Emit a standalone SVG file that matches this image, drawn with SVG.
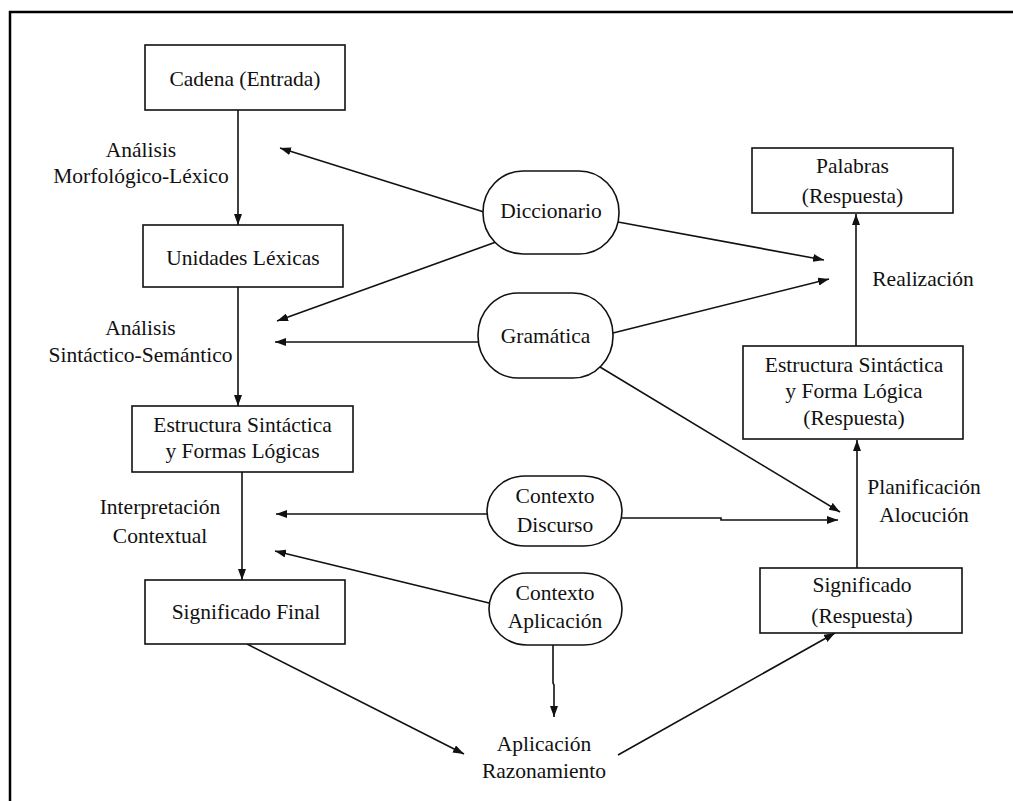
<svg xmlns="http://www.w3.org/2000/svg" width="1013" height="801" viewBox="0 0 1013 801">
  <defs>
    <marker id="arrow" viewBox="0 0 10 10" refX="10" refY="5" markerWidth="11" markerHeight="8" markerUnits="userSpaceOnUse" orient="auto" preserveAspectRatio="none">
      <path d="M0,0 L10,5 L0,10 Z" fill="#111"/>
    </marker>
  </defs>

  <rect width="1013" height="801" fill="#fff"/>

  <!-- outer frame: top and left edges only -->
  <g id="frame" stroke="#000" stroke-width="2.5" fill="none">
    <line x1="9" y1="12" x2="1013" y2="12"/>
    <line x1="10" y1="11" x2="10" y2="801"/>
  </g>

  <g id="connectors" fill="none" stroke="#111" stroke-width="1.6" marker-end="url(#arrow)">
    <!-- left pipeline -->
    <line x1="238" y1="110" x2="238" y2="225"/>
    <line x1="238" y1="287" x2="238" y2="406"/>
    <line x1="242" y1="472" x2="242" y2="580"/>
    <!-- right pipeline -->
    <line x1="857" y1="568" x2="857" y2="440"/>
    <line x1="856" y1="346" x2="856" y2="214"/>
    <!-- Diccionario -->
    <line x1="484" y1="212" x2="280" y2="148"/>
    <line x1="496" y1="242" x2="277" y2="321"/>
    <line x1="618" y1="222" x2="824" y2="260"/>
    <!-- Gramática -->
    <line x1="478" y1="342" x2="275" y2="342"/>
    <line x1="613" y1="333" x2="829" y2="279"/>
    <line x1="600" y1="367" x2="840" y2="512"/>
    <!-- Contexto Discurso -->
    <line x1="487" y1="514" x2="276" y2="514"/>
    <polyline points="622,518 721,518 721,520 838,520"/>
    <!-- Contexto Aplicación -->
    <line x1="489" y1="603" x2="275" y2="551"/>
    <polyline points="553,645 553,683 554,685 554,717"/>
    <!-- reasoning step -->
    <line x1="247" y1="644" x2="464" y2="754"/>
    <line x1="618" y1="755" x2="835" y2="633"/>
  </g>

  <!-- all nodes share one stroke and type setting -->
  <g id="nodes" stroke-width="1.6" font-family="Liberation Serif" font-size="21.5" text-anchor="middle">
    <g id="cadena">
      <rect x="145" y="45" width="200" height="65" fill="#fff" stroke="#111"/>
      <text x="245" y="86" fill="#111">Cadena (Entrada)</text>
    </g>
    <g id="unidades">
      <rect x="143" y="225" width="200" height="62" fill="#fff" stroke="#111"/>
      <text x="243" y="265" fill="#111">Unidades Léxicas</text>
    </g>
    <g id="estructura">
      <rect x="132" y="406" width="221" height="66" fill="#fff" stroke="#111"/>
      <text x="242.5" y="432" fill="#111">Estructura Sintáctica</text>
      <text x="242.5" y="458" fill="#111">y Formas Lógicas</text>
    </g>
    <g id="significado-final">
      <rect x="145" y="580" width="200" height="64" fill="#fff" stroke="#111"/>
      <text x="246" y="619" fill="#111">Significado Final</text>
    </g>

    <g id="palabras">
      <rect x="752" y="148" width="201" height="65" fill="#fff" stroke="#111"/>
      <text x="852.5" y="173" fill="#111">Palabras</text>
      <text x="852.5" y="203" fill="#111">(Respuesta)</text>
    </g>
    <g id="estructura-respuesta">
      <rect x="743" y="346" width="220" height="93" fill="#fff" stroke="#111"/>
      <text x="854" y="372" fill="#111">Estructura Sintáctica</text>
      <text x="854" y="398" fill="#111">y Forma Lógica</text>
      <text x="854" y="425" fill="#111">(Respuesta)</text>
    </g>
    <g id="significado-respuesta">
      <rect x="760" y="568" width="202" height="65" fill="#fff" stroke="#111"/>
      <text x="862" y="592" fill="#111">Significado</text>
      <text x="862" y="623" fill="#111">(Respuesta)</text>
    </g>

    <g id="diccionario">
      <rect x="483" y="171" width="136" height="83" rx="40" ry="41" fill="#fff" stroke="#111"/>
      <text x="551" y="218" fill="#111">Diccionario</text>
    </g>
    <g id="gramatica">
      <rect x="478" y="293" width="135" height="85" rx="40" ry="42" fill="#fff" stroke="#111"/>
      <text x="545.5" y="343" fill="#111">Gramática</text>
    </g>
    <g id="contexto-discurso">
      <rect x="487" y="476" width="135" height="70" rx="38" ry="35" fill="#fff" stroke="#111"/>
      <text x="555" y="503" fill="#111">Contexto</text>
      <text x="555" y="532" fill="#111">Discurso</text>
    </g>
    <g id="contexto-aplicacion">
      <rect x="489" y="573" width="133" height="72" rx="38" ry="36" fill="#fff" stroke="#111"/>
      <text x="555" y="600" fill="#111">Contexto</text>
      <text x="555" y="628" fill="#111">Aplicación</text>
    </g>

    <g id="aplicacion-razonamiento" fill="#111">
      <text x="544" y="751">Aplicación</text>
      <text x="544" y="778">Razonamiento</text>
    </g>

    <!-- process-step labels beside the arrows -->
    <g id="step-labels" fill="#111">
      <text x="141" y="157">Análisis</text>
      <text x="141" y="183">Morfológico-Léxico</text>
      <text x="140.5" y="335">Análisis</text>
      <text x="140.5" y="362">Sintáctico-Semántico</text>
      <text x="160" y="514">Interpretación</text>
      <text x="160" y="543">Contextual</text>
      <text x="923" y="286">Realización</text>
      <text x="924" y="494">Planificación</text>
      <text x="924" y="522">Alocución</text>
    </g>
  </g>
</svg>
